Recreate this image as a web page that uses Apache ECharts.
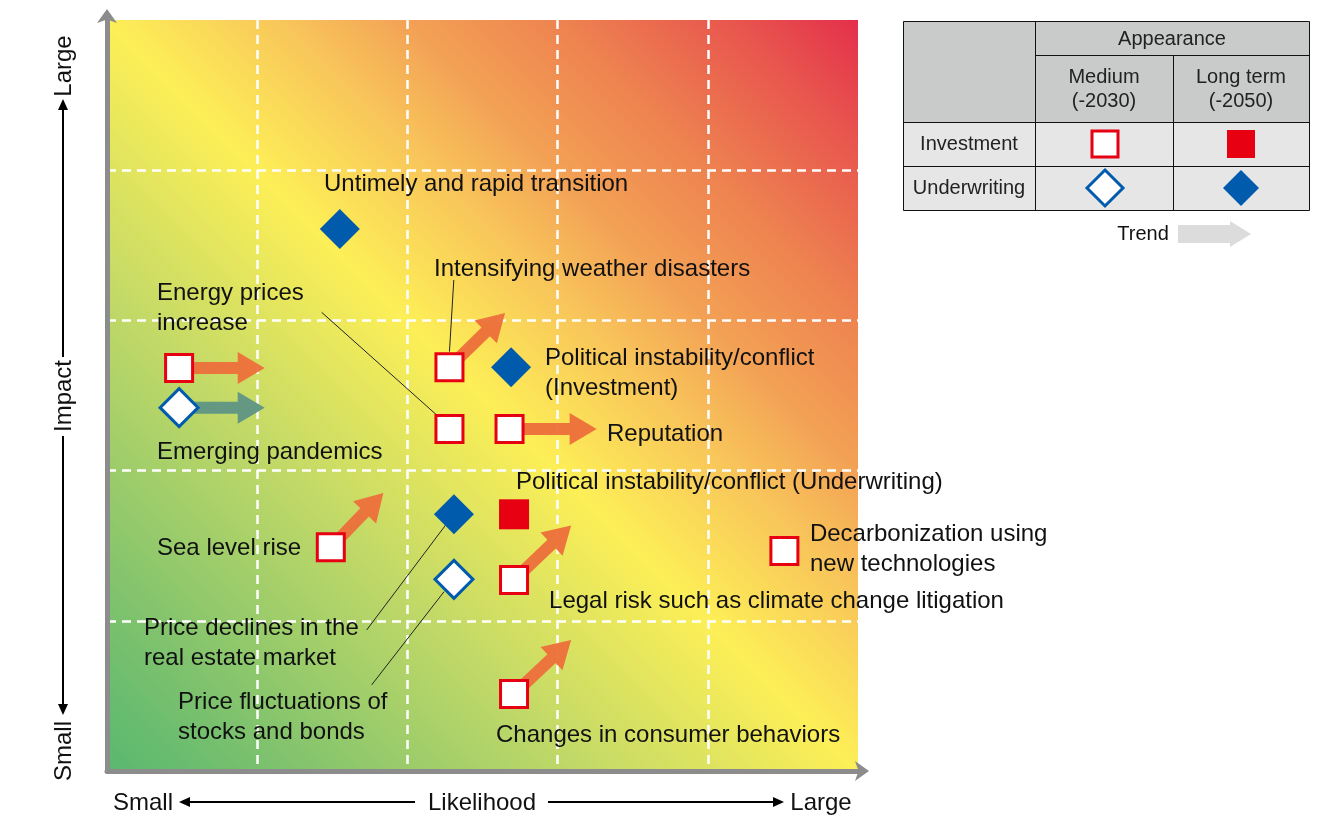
<!DOCTYPE html>
<html>
<head>
<meta charset="utf-8">
<script src="https://cdn.jsdelivr.net/npm/echarts@6/dist/echarts.min.js"></script>
<style>
html,body{margin:0;padding:0;background:#fff;}
#chart{width:1332px;height:817px;}
</style>
</head>
<body>
<div id="chart"></div>
<script>
// ---- Data (Likelihood x, Impact y; scale 0..5) ----
const invMedium = [ // open red squares: [likelihood, impact]
  [0.48, 2.683], [2.28, 2.688], [2.28, 2.277], [2.68, 2.277],
  [1.49, 1.489], [2.71, 1.272], [2.71, 0.513], [4.51, 1.465]
];
const invLong = [ // filled red squares
  [2.71, 1.709]
];
const uwMedium = [ // open blue diamonds
  [0.48, 2.419], [2.31, 1.276]
];
const uwLong = [ // filled blue diamonds
  [1.55, 3.609], [2.69, 2.688], [2.31, 1.709]
];
const trends = [ // [fromX, fromY, toX, toY, kind]
  [0.48, 2.683, 1.05, 2.683, 'inv'],
  [0.48, 2.419, 1.05, 2.419, 'uw'],
  [2.28, 2.688, 2.65, 3.049, 'inv'],
  [2.68, 2.277, 3.26, 2.277, 'inv'],
  [1.49, 1.489, 1.84, 1.851, 'inv'],
  [2.71, 1.272, 3.09, 1.634, 'inv'],
  [2.71, 0.513, 3.09, 0.872, 'inv']
];
const riskNames = [
  'Untimely and rapid transition',
  'Intensifying weather disasters',
  'Energy prices\nincrease',
  'Political instability/conflict\n(Investment)',
  'Reputation',
  'Emerging pandemics',
  'Political instability/conflict (Underwriting)',
  'Decarbonization using\nnew technologies',
  'Sea level rise',
  'Legal risk such as climate change litigation',
  'Price declines in the\nreal estate market',
  'Price fluctuations of\nstocks and bonds',
  'Changes in consumer behaviors'
];
const labelAnchors = [ // left-middle anchor of each name, in data units
  [1.445, 3.905], [2.177, 3.339], [0.333, 3.079], [2.916, 2.648],
  [3.329, 2.240], [0.333, 2.120], [2.723, 1.921], [4.680, 1.476],
  [0.333, 1.479], [2.943, 1.128], [0.246, 0.847], [0.473, 0.358],
  [2.590, 0.236]
];
const leaders = [ // [fromX, fromY, toX, toY]
  [2.309, 3.269, 2.280, 2.792],
  [1.429, 3.054, 2.195, 2.370],
  [2.255, 1.638, 1.729, 0.939],
  [2.244, 1.194, 1.762, 0.573]
];
const axisTicks = [0, 1, 2, 3, 4, 5];

// ---- Styles ----
const RED = '#e60012', BLUE = '#005bac';
const FONT = '"Liberation Sans", Arial, Helvetica, sans-serif';
const TXT = '#111111';

const chart = echarts.init(document.getElementById('chart'), null, {renderer: 'canvas'});

const bg = new echarts.graphic.LinearGradient(0, 1, 1, 0, [
  {offset: 0, color: '#58b870'},
  {offset: 0.1, color: '#78c06e'},
  {offset: 0.32, color: '#c2d967'},
  {offset: 0.5, color: '#fdef57'},
  {offset: 0.62, color: '#f8c45a'},
  {offset: 0.7, color: '#f3a155'},
  {offset: 0.8, color: '#ee8350'},
  {offset: 0.92, color: '#e8544e'},
  {offset: 1, color: '#e42f4b'}
]);

function axisCfg(offset) {
  return {
    type: 'value', min: axisTicks[0], max: axisTicks[axisTicks.length - 1], interval: 1,
    offset: offset,
    axisLabel: {show: false}, axisTick: {show: false},
    axisLine: {show: true, lineStyle: {color: '#8c8c8c', width: 5},
      symbol: ['none', 'arrow'], symbolSize: [15, 14], symbolOffset: [0, 11]},
    splitLine: {show: true, showMinLine: false, showMaxLine: false,
      lineStyle: {color: '#ffffff', width: 2.5, type: [9, 6]}}
  };
}

function diamondPts(cx, cy, h) {
  return [[cx, cy - h], [cx + h, cy], [cx, cy + h], [cx - h, cy]];
}

const graphics = [];
function capText(t, x, y, rot) {
  graphics.push({type: 'text', x: x, y: y, rotation: rot || 0,
    style: {text: t, font: '24px ' + FONT, fill: TXT, align: 'center', verticalAlign: 'middle'}});
}
// Left axis caption
capText('Large', 64, 66, Math.PI / 2);
capText('Impact', 64, 396, Math.PI / 2);
capText('Small', 64, 751, Math.PI / 2);
graphics.push({type: 'line', shape: {x1: 63, y1: 108, x2: 63, y2: 357}, style: {stroke: '#000', lineWidth: 2}});
graphics.push({type: 'polygon', shape: {points: [[63, 99], [58, 110], [68, 110]]}, style: {fill: '#000'}});
graphics.push({type: 'line', shape: {x1: 63, y1: 436, x2: 63, y2: 706}, style: {stroke: '#000', lineWidth: 2}});
graphics.push({type: 'polygon', shape: {points: [[63, 715], [58, 704], [68, 704]]}, style: {fill: '#000'}});
// Bottom axis caption
capText('Small', 143, 803);
capText('Likelihood', 482, 803);
capText('Large', 821, 803);
graphics.push({type: 'line', shape: {x1: 188, y1: 802, x2: 415, y2: 802}, style: {stroke: '#000', lineWidth: 2}});
graphics.push({type: 'polygon', shape: {points: [[179, 802], [190, 797], [190, 807]]}, style: {fill: '#000'}});
graphics.push({type: 'line', shape: {x1: 548, y1: 802, x2: 775, y2: 802}, style: {stroke: '#000', lineWidth: 2}});
graphics.push({type: 'polygon', shape: {points: [[784, 802], [773, 797], [773, 807]]}, style: {fill: '#000'}});

// Legend table
graphics.push({type: 'rect', shape: {x: 903, y: 21, width: 406, height: 101}, style: {fill: '#c9caca'}});
graphics.push({type: 'rect', shape: {x: 903, y: 122, width: 406, height: 89}, style: {fill: '#e6e6e6'}});
graphics.push({type: 'rect', shape: {x: 903.5, y: 21.5, width: 406, height: 189}, style: {fill: 'none', stroke: '#111', lineWidth: 1}});
[[1035.5, 55.5, 1309.5, 55.5], [903.5, 122.5, 1309.5, 122.5], [903.5, 166.5, 1309.5, 166.5],
 [1035.5, 21.5, 1035.5, 210.5], [1173.5, 55.5, 1173.5, 210.5]].forEach(function (l) {
  graphics.push({type: 'line', shape: {x1: l[0], y1: l[1], x2: l[2], y2: l[3]}, style: {stroke: '#111', lineWidth: 1}});
});
function tableText(t, x, y) {
  graphics.push({type: 'text', x: x, y: y,
    style: {text: t, font: '20px ' + FONT, fill: '#222', align: 'center', verticalAlign: 'middle', lineHeight: 24}});
}
tableText('Appearance', 1172, 39);
tableText('Medium\n(-2030)', 1104, 89);
tableText('Long term\n(-2050)', 1241, 89);
tableText('Investment', 969, 144);
tableText('Underwriting', 969, 188);
graphics.push({type: 'rect', shape: {x: 1092, y: 131, width: 26, height: 26}, style: {fill: '#fff', stroke: RED, lineWidth: 3}});
graphics.push({type: 'rect', shape: {x: 1227, y: 130, width: 28, height: 28}, style: {fill: RED}});
graphics.push({type: 'polygon', shape: {points: diamondPts(1105, 188, 18)}, style: {fill: '#fff', stroke: BLUE, lineWidth: 3}});
graphics.push({type: 'polygon', shape: {points: diamondPts(1241, 188, 18)}, style: {fill: BLUE}});
graphics.push({type: 'text', x: 1143, y: 234,
  style: {text: 'Trend', font: '20px ' + FONT, fill: '#111', align: 'center', verticalAlign: 'middle'}});
graphics.push({type: 'polygon', shape: {points: [[1178, 225], [1230, 225], [1230, 221], [1251, 234], [1230, 247], [1230, 243], [1178, 243]]},
  style: {fill: '#dcdcdc'}});

function renderArrow(params, api) {
  const p0 = api.coord([api.value(0), api.value(1)]);
  const p1 = api.coord([api.value(2), api.value(3)]);
  const kind = trends[params.dataIndex][4];
  const dx = p1[0] - p0[0], dy = p1[1] - p0[1];
  const L = Math.sqrt(dx * dx + dy * dy);
  const ux = dx / L, uy = dy / L, nx = -uy, ny = ux;
  const sw = 6, hw = 16, hl = 27;
  const bx = p1[0] - ux * hl, by = p1[1] - uy * hl;
  const pts = [
    [p0[0] + nx * sw, p0[1] + ny * sw],
    [bx + nx * sw, by + ny * sw],
    [bx + nx * hw, by + ny * hw],
    [p1[0], p1[1]],
    [bx - nx * hw, by - ny * hw],
    [bx - nx * sw, by - ny * sw],
    [p0[0] - nx * sw, p0[1] - ny * sw]
  ];
  return {type: 'polygon', shape: {points: pts},
    style: {fill: kind === 'uw' ? '#5f9585' : '#ec6f3b', opacity: 0.95}};
}

const option = {
  animation: false,
  backgroundColor: '#ffffff',
  grid: {left: 107, top: 20, width: 751, height: 751, show: true, backgroundColor: bg, borderWidth: 0},
  xAxis: axisCfg(2),
  yAxis: axisCfg(2),
  graphic: graphics,
  series: [
    {type: 'custom', name: 'trend', renderItem: renderArrow, z: 2,
      encode: {x: [0, 2], y: [1, 3]},
      data: trends.map(function (t) { return [t[0], t[1], t[2], t[3]]; })},
    {type: 'lines', coordinateSystem: 'cartesian2d', z: 3, silent: true,
      lineStyle: {color: '#222', width: 1, opacity: 1}, symbol: 'none',
      data: leaders.map(function (l) { return {coords: [[l[0], l[1]], [l[2], l[3]]]}; })},
    {type: 'scatter', name: 'Investment medium', z: 5, symbol: 'rect', symbolSize: 27,
      itemStyle: {color: '#ffffff', borderColor: RED, borderWidth: 3, opacity: 1}, data: invMedium},
    {type: 'scatter', name: 'Investment long', z: 5, symbol: 'rect', symbolSize: 30,
      itemStyle: {color: RED, opacity: 1}, data: invLong},
    {type: 'scatter', name: 'Underwriting medium', z: 5, symbol: 'diamond', symbolSize: 38,
      itemStyle: {color: '#ffffff', borderColor: BLUE, borderWidth: 3, opacity: 1}, data: uwMedium},
    {type: 'scatter', name: 'Underwriting long', z: 5, symbol: 'diamond', symbolSize: 40,
      itemStyle: {color: BLUE, opacity: 1}, data: uwLong},
    {type: 'scatter', name: 'labels', z: 6, symbolSize: 0, silent: true,
      itemStyle: {opacity: 1},
      data: labelAnchors.map(function (a, i) { return {value: a, name: riskNames[i]}; }),
      label: {show: true, position: 'right', distance: 0, formatter: '{b}',
        fontFamily: FONT, fontSize: 24, color: TXT, lineHeight: 30, align: 'left', verticalAlign: 'middle'}}
  ]
};
chart.setOption(option);
</script>
</body>
</html>
